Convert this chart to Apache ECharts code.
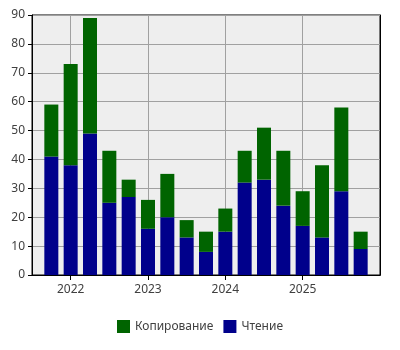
<!DOCTYPE html>
<html><head><meta charset="utf-8">
<script src="https://cdn.jsdelivr.net/npm/echarts@6/dist/echarts.min.js"></script>
<style>html,body{margin:0;padding:0;background:#fff}#c{width:400px;height:350px}</style>
</head><body><div id="c"></div>
<script>
var periods = ['2021-Q4','2022-Q1','2022-Q2','2022-Q3','2022-Q4','2023-Q1','2023-Q2','2023-Q3','2023-Q4','2024-Q1','2024-Q2','2024-Q3','2024-Q4','2025-Q1','2025-Q2','2025-Q3','2025-Q4'];
var reading = [41,38,49,25,27,16,20,13,8,15,32,33,24,17,13,29,9];
var copying = [18,35,40,18,6,10,15,6,7,8,11,18,19,12,25,29,6];
var yTicks = [0,10,20,30,40,50,60,70,80,90];

var cats = [''].concat(periods).concat(['']);
function pad(a){ return ['-'].concat(a).concat(['-']); }
function isYearStart(i){ var c = cats[i]; return c && c.slice(-2) === 'Q1'; }
var fontFam = '"Noto Sans", "DejaVu Sans", sans-serif';
var chart = echarts.init(document.getElementById('c'));
chart.setOption({
  animation: false,
  grid: {left: 32, right: 20, top: 15, bottom: 75, show: true, backgroundColor: '#eeeeee', borderColor: '#000', borderWidth: 1},
  legend: {bottom: 12, left: 'center', icon: 'rect', itemWidth: 13, itemHeight: 13, itemGap: 10,
    textStyle: {color: '#404040', fontSize: 12, fontFamily: fontFam},
    data: ['Копирование', 'Чтение']},
  xAxis: [{type: 'category', data: cats, boundaryGap: false,
    axisLine: {lineStyle: {color: '#000'}},
    axisTick: {show: true, length: 5, interval: function(i){ return isYearStart(i); }, lineStyle: {color: '#000'}},
    axisLabel: {interval: function(i){ return isYearStart(i); }, formatter: function(v){ return v ? v.slice(0,4) : ''; },
      color: '#404040', fontSize: 12, fontFamily: fontFam, margin: 9},
    splitLine: {show: true, interval: function(i){ return isYearStart(i); }, lineStyle: {color: '#a0a0a0'}}
  }, {type: 'category', data: cats, boundaryGap: false, position: 'top', z: 5,
    axisLine: {show: true, lineStyle: {color: '#000'}}, axisTick: {show: false}, axisLabel: {show: false}, splitLine: {show: false}}],
  yAxis: [{type: 'value', min: yTicks[0], max: yTicks[yTicks.length-1], interval: 10,
    axisLine: {show: true, lineStyle: {color: '#000'}},
    axisTick: {show: true, length: 4, lineStyle: {color: '#000'}},
    axisLabel: {color: '#404040', fontSize: 12, fontFamily: fontFam, margin: 7},
    splitLine: {show: true, lineStyle: {color: '#a0a0a0'}}
  }, {type: 'value', min: yTicks[0], max: yTicks[yTicks.length-1], interval: 10, position: 'right', z: 5,
    axisLine: {show: true, lineStyle: {color: '#000'}}, axisTick: {show: false}, axisLabel: {show: false}, splitLine: {show: false}}],
  series: [
    {name: 'Чтение', type: 'bar', stack: 's', data: pad(reading), barWidth: 14, itemStyle: {color: '#00008b'}},
    {name: 'Копирование', type: 'bar', stack: 's', data: pad(copying), barWidth: 14, itemStyle: {color: '#006400'}}
  ]
});
</script></body></html>
